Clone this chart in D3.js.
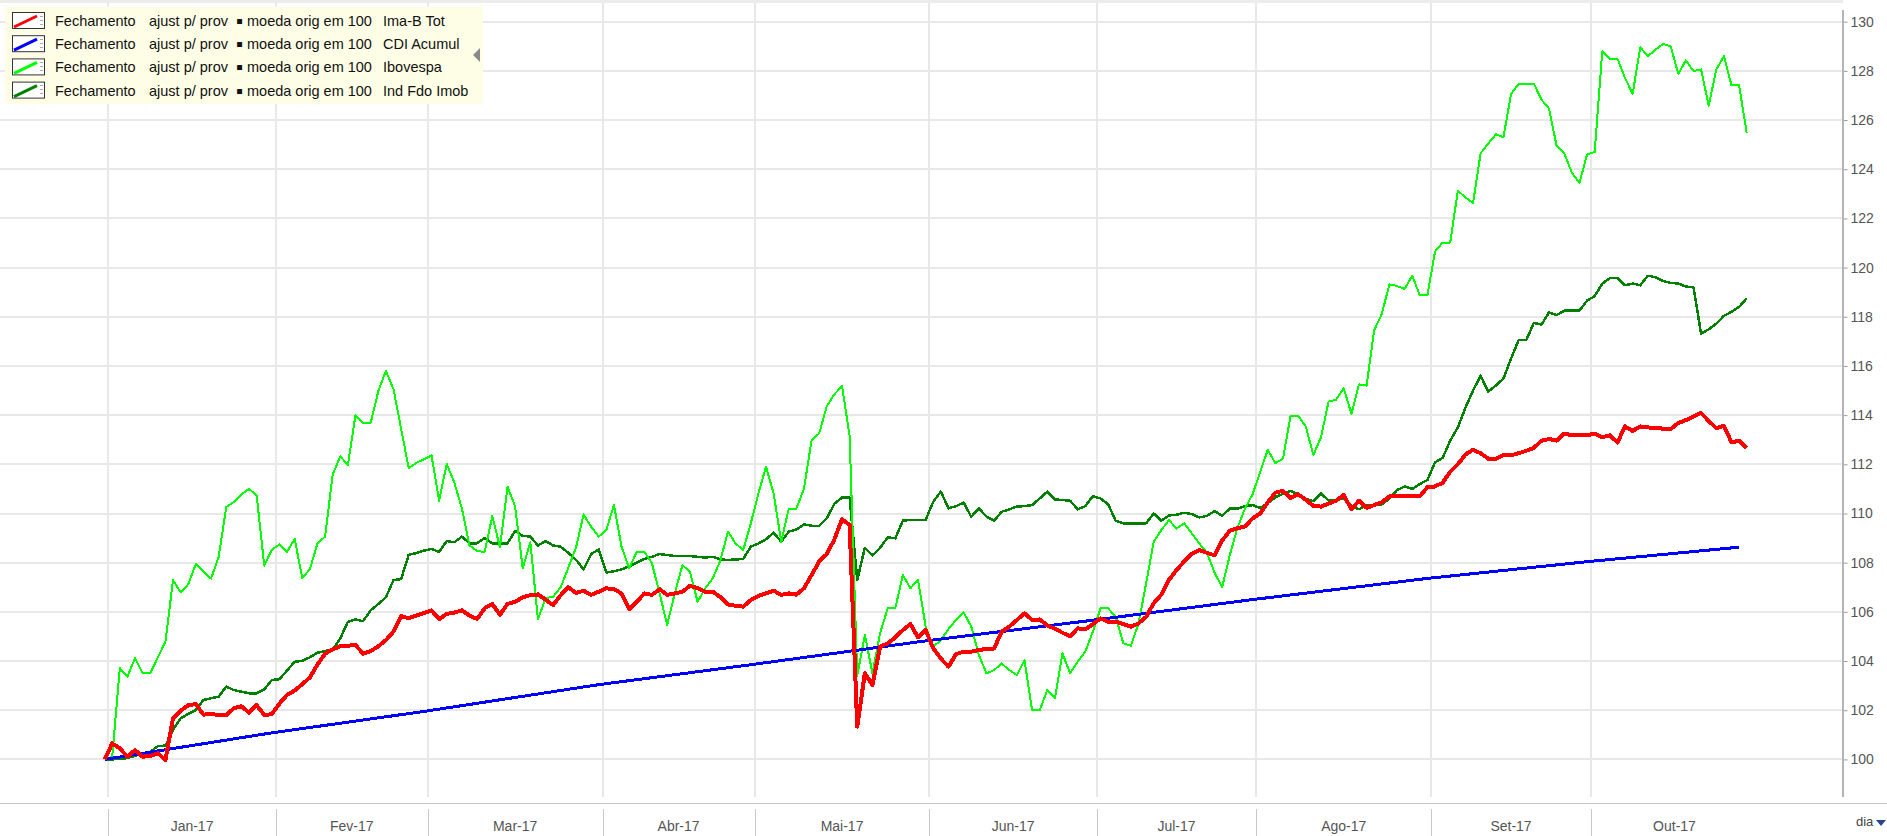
<!DOCTYPE html>
<html>
<head>
<meta charset="utf-8">
<script src="https://cdn.jsdelivr.net/npm/d3@7"></script>
<style>
  body { margin: 0; background: #fff; overflow: hidden; }
  svg { display: block; font-family: "Liberation Sans", Arial, sans-serif; }
</style>
</head>
<body>
<div id="chart"></div>
<script>
// ---------------- data ----------------
var monthLabels = ["Jan-17", "Fev-17", "Mar-17", "Abr-17", "Mai-17", "Jun-17", "Jul-17", "Ago-17", "Set-17", "Out-17"];
var yTickValues = [100, 102, 104, 106, 108, 110, 112, 114, 116, 118, 120, 122, 124, 126, 128, 130];
var legendParts = ["Fechamento", "ajust p/ prov", "\u25aa", "moeda orig em 100"];
var seriesNames = ["Ima-B Tot", "CDI Acumul", "Ibovespa", "Ind Fdo Imob"];

var imabTot = [
  ["2016-12-30",100],["2017-01-02",100.65],["2017-01-03",100.45],["2017-01-04",100.11],["2017-01-05",100.38],["2017-01-06",100.11],["2017-01-09",100.14],["2017-01-10",100.25],["2017-01-11",99.98],["2017-01-12",101.67],["2017-01-13",101.98],["2017-01-16",102.2],["2017-01-17",102.25],["2017-01-18",101.82],["2017-01-19",101.85],["2017-01-20",101.8],["2017-01-23",101.8],["2017-01-24",102.08],["2017-01-25",102.16],["2017-01-26",101.9],["2017-01-27",102.21],["2017-01-30",101.8],["2017-01-31",101.84],
  ["2017-02-01",102.27],["2017-02-02",102.62],["2017-02-03",102.8],["2017-02-06",103.06],["2017-02-07",103.33],["2017-02-08",103.86],["2017-02-09",104.3],["2017-02-10",104.47],["2017-02-13",104.6],["2017-02-15",104.65],["2017-02-16",104.3],["2017-02-17",104.4],["2017-02-20",104.6],["2017-02-21",104.85],["2017-02-22",105.2],["2017-02-23",105.83],["2017-02-24",105.74],["2017-02-27",105.85],["2017-02-28",105.95],
  ["2017-03-01",106.06],["2017-03-02",105.7],["2017-03-03",105.92],["2017-03-06",105.97],["2017-03-07",106.06],["2017-03-08",105.85],["2017-03-09",105.71],["2017-03-10",106.15],["2017-03-13",106.32],["2017-03-14",105.88],["2017-03-15",106.32],["2017-03-16",106.41],["2017-03-17",106.59],["2017-03-20",106.68],["2017-03-21",106.71],["2017-03-22",106.5],["2017-03-23",106.27],["2017-03-24",106.68],["2017-03-27",107.0],["2017-03-28",106.77],["2017-03-29",106.86],["2017-03-30",106.69],["2017-03-31",106.82],
  ["2017-04-03",106.96],["2017-04-04",106.92],["2017-04-05",106.75],["2017-04-06",106.1],["2017-04-07",106.41],["2017-04-10",106.75],["2017-04-11",106.69],["2017-04-12",106.92],["2017-04-13",106.69],["2017-04-14",106.75],["2017-04-17",106.82],["2017-04-18",107.06],["2017-04-19",106.96],["2017-04-20",106.82],["2017-04-21",106.82],["2017-04-24",106.6],["2017-04-25",106.3],["2017-04-26",106.25],["2017-04-27",106.21],["2017-04-28",106.48],
  ["2017-05-01",106.65],["2017-05-02",106.75],["2017-05-03",106.86],["2017-05-04",106.69],["2017-05-05",106.75],["2017-05-08",106.7],["2017-05-09",106.96],["2017-05-10",107.5],["2017-05-11",108.05],["2017-05-12",108.35],["2017-05-15",108.95],["2017-05-16",109.77],["2017-05-17",109.53],["2017-05-18",101.33],["2017-05-19",103.5],["2017-05-22",103.03],["2017-05-23",104.58],["2017-05-24",104.72],["2017-05-25",104.96],["2017-05-26",105.26],["2017-05-29",105.5],["2017-05-30",104.96],["2017-05-31",105.26],
  ["2017-06-01",104.51],["2017-06-02",104.1],["2017-06-05",103.77],["2017-06-06",104.28],["2017-06-07",104.38],["2017-06-08",104.38],["2017-06-09",104.45],["2017-06-12",104.49],["2017-06-13",104.51],["2017-06-14",105.19],["2017-06-15",105.4],["2017-06-16",105.67],["2017-06-19",105.94],["2017-06-20",105.67],["2017-06-21",105.69],["2017-06-22",105.45],["2017-06-23",105.31],["2017-06-26",105.15],["2017-06-27",105.0],["2017-06-28",105.33],["2017-06-29",105.29],["2017-06-30",105.5],
  ["2017-07-03",105.73],["2017-07-04",105.6],["2017-07-05",105.6],["2017-07-06",105.5],["2017-07-07",105.4],["2017-07-10",105.53],["2017-07-11",105.8],["2017-07-12",106.35],["2017-07-13",106.7],["2017-07-14",107.3],["2017-07-17",107.7],["2017-07-18",108.05],["2017-07-19",108.35],["2017-07-20",108.51],["2017-07-21",108.4],["2017-07-24",108.3],["2017-07-25",108.9],["2017-07-26",109.3],["2017-07-27",109.4],["2017-07-28",109.47],["2017-07-31",109.8],
  ["2017-08-01",110.0],["2017-08-02",110.45],["2017-08-03",110.85],["2017-08-04",110.92],["2017-08-07",110.63],["2017-08-08",110.78],["2017-08-09",110.56],["2017-08-10",110.31],["2017-08-11",110.28],["2017-08-14",110.4],["2017-08-15",110.52],["2017-08-16",110.75],["2017-08-17",110.17],["2017-08-18",110.52],["2017-08-21",110.23],["2017-08-22",110.34],["2017-08-23",110.46],["2017-08-24",110.7],["2017-08-25",110.7],["2017-08-28",110.7],["2017-08-29",110.7],["2017-08-30",110.7],["2017-08-31",111.07],
  ["2017-09-01",111.1],["2017-09-04",111.25],["2017-09-05",111.7],["2017-09-06",112.0],["2017-09-07",112.4],["2017-09-08",112.59],["2017-09-11",112.45],["2017-09-12",112.23],["2017-09-13",112.23],["2017-09-14",112.37],["2017-09-15",112.37],["2017-09-18",112.45],["2017-09-19",112.55],["2017-09-20",112.67],["2017-09-21",112.96],["2017-09-22",113.03],["2017-09-25",112.96],["2017-09-26",113.25],["2017-09-27",113.18],["2017-09-28",113.18],["2017-09-29",113.18],
  ["2017-10-02",113.25],["2017-10-03",113.1],["2017-10-04",113.18],["2017-10-05",112.89],["2017-10-06",113.54],["2017-10-09",113.36],["2017-10-10",113.54],["2017-10-11",113.5],["2017-10-12",113.48],["2017-10-13",113.45],["2017-10-16",113.43],["2017-10-17",113.68],["2017-10-18",113.8],["2017-10-19",113.94],["2017-10-20",114.09],["2017-10-23",113.76],["2017-10-24",113.47],["2017-10-25",113.57],["2017-10-26",112.89],["2017-10-27",112.96],["2017-10-30",112.67]
];

var cdiAcumul = [
  ["2016-12-30",100],["2017-01-31",101.08],["2017-02-28",101.95],["2017-03-31",103.04],["2017-04-28",103.85],["2017-05-31",104.82],["2017-06-30",105.66],["2017-07-31",106.5],["2017-08-31",107.36],["2017-09-29",108.04],["2017-10-27",108.63]
];

var ibovespa = [
  ["2016-12-30",100],["2017-01-02",100.1],["2017-01-03",103.71],["2017-01-04",103.36],["2017-01-05",104.12],["2017-01-06",103.5],["2017-01-09",103.5],["2017-01-11",104.79],["2017-01-12",107.29],["2017-01-13",106.8],["2017-01-16",107.12],["2017-01-17",107.95],["2017-01-19",107.35],["2017-01-20",108.23],["2017-01-23",110.26],["2017-01-24",110.47],["2017-01-25",110.78],["2017-01-26",111.0],["2017-01-27",110.74],["2017-01-30",107.88],["2017-01-31",108.53],
  ["2017-02-01",108.74],["2017-02-02",108.44],["2017-02-03",108.97],["2017-02-06",107.38],["2017-02-07",107.73],["2017-02-08",108.79],["2017-02-09",109.06],["2017-02-10",111.58],["2017-02-13",112.32],["2017-02-14",111.97],["2017-02-15",114.0],["2017-02-16",113.68],["2017-02-17",113.68],["2017-02-20",114.97],["2017-02-21",115.8],["2017-02-22",115.06],["2017-02-24",111.84],["2017-02-27",112.06],["2017-02-28",112.2],
  ["2017-03-01",112.36],["2017-03-02",110.52],["2017-03-03",112.02],["2017-03-06",111.26],["2017-03-07",110.2],["2017-03-08",108.7],["2017-03-09",108.47],["2017-03-10",108.44],["2017-03-13",109.9],["2017-03-14",108.62],["2017-03-15",111.09],["2017-03-16",110.29],["2017-03-17",107.77],["2017-03-20",108.84],["2017-03-21",105.7],["2017-03-22",106.55],["2017-03-23",106.62],["2017-03-24",107.0],["2017-03-27",107.8],["2017-03-28",108.6],["2017-03-29",109.96],["2017-03-30",109.46],["2017-03-31",109.06],
  ["2017-04-03",109.33],["2017-04-04",110.35],["2017-04-05",108.65],["2017-04-06",107.77],["2017-04-07",108.45],["2017-04-10",108.45],["2017-04-11",107.97],["2017-04-12",106.75],["2017-04-13",105.47],["2017-04-14",106.75],["2017-04-17",107.9],["2017-04-18",107.63],["2017-04-19",106.41],["2017-04-20",106.95],["2017-04-21",107.36],["2017-04-24",108.1],["2017-04-25",109.26],["2017-04-26",108.78],["2017-04-27",108.51],["2017-04-28",109.6],
  ["2017-05-01",110.82],["2017-05-02",111.9],["2017-05-03",110.82],["2017-05-04",108.85],["2017-05-05",110.2],["2017-05-08",110.2],["2017-05-09",111.02],["2017-05-10",112.99],["2017-05-11",113.26],["2017-05-12",114.37],["2017-05-15",114.85],["2017-05-16",115.18],["2017-05-17",113.15],["2017-05-18",103.4],["2017-05-19",105.06],["2017-05-22",103.5],["2017-05-23",105.12],["2017-05-24",106.14],["2017-05-25",106.14],["2017-05-26",107.5],["2017-05-29",106.96],["2017-05-30",107.3],["2017-05-31",105.4],
  ["2017-06-01",104.58],["2017-06-02",104.85],["2017-06-05",105.3],["2017-06-06",105.67],["2017-06-07",105.98],["2017-06-08",105.4],["2017-06-09",104.24],["2017-06-12",103.5],["2017-06-13",103.63],["2017-06-14",103.9],["2017-06-15",103.63],["2017-06-16",103.43],["2017-06-19",104.04],["2017-06-20",102.0],["2017-06-21",102.0],["2017-06-22",102.82],["2017-06-23",102.48],["2017-06-26",104.31],["2017-06-27",103.5],["2017-06-28",103.97],["2017-06-29",104.38],["2017-06-30",105.2],
  ["2017-07-03",106.14],["2017-07-04",106.14],["2017-07-05",105.8],["2017-07-06",104.72],["2017-07-07",104.62],["2017-07-10",105.53],["2017-07-11",107.16],["2017-07-12",108.85],["2017-07-13",109.33],["2017-07-14",109.73],["2017-07-17",109.39],["2017-07-18",109.6],["2017-07-19",109.19],["2017-07-20",108.78],["2017-07-21",108.4],["2017-07-24",107.6],["2017-07-25",107.0],["2017-07-26",108.3],["2017-07-27",109.4],["2017-07-28",110.2],["2017-07-31",110.78],
  ["2017-08-02",112.59],["2017-08-03",112.05],["2017-08-04",112.23],["2017-08-07",113.97],["2017-08-08",113.97],["2017-08-09",113.54],["2017-08-10",112.38],["2017-08-11",113.1],["2017-08-14",114.55],["2017-08-15",114.63],["2017-08-16",115.09],["2017-08-17",114.05],["2017-08-18",115.25],["2017-08-21",115.2],["2017-08-22",117.46],["2017-08-23",118.11],["2017-08-24",119.32],["2017-08-25",119.25],["2017-08-28",119.13],["2017-08-29",119.67],["2017-08-30",118.88],["2017-08-31",118.88],
  ["2017-09-01",120.65],["2017-09-04",121.02],["2017-09-05",121.02],["2017-09-06",123.12],["2017-09-07",122.86],["2017-09-08",122.62],["2017-09-11",124.65],["2017-09-12",125.04],["2017-09-13",125.42],["2017-09-14",125.3],["2017-09-15",127.05],["2017-09-18",127.48],["2017-09-19",127.48],["2017-09-20",127.48],["2017-09-21",126.83],["2017-09-22",126.47],["2017-09-25",124.94],["2017-09-26",124.65],["2017-09-27",123.86],["2017-09-28",123.45],["2017-09-29",124.6],
  ["2017-10-02",124.7],["2017-10-03",128.79],["2017-10-04",128.5],["2017-10-05",128.5],["2017-10-06",127.7],["2017-10-09",127.07],["2017-10-10",128.96],["2017-10-11",128.6],["2017-10-12",128.86],["2017-10-13",129.1],["2017-10-16",129.0],["2017-10-17",127.88],["2017-10-18",128.43],["2017-10-19",127.99],["2017-10-20",128.06],["2017-10-23",126.58],["2017-10-24",128.06],["2017-10-25",128.6],["2017-10-26",127.41],["2017-10-27",127.41],["2017-10-30",125.48]
];

var indFdoImob = [
  ["2016-12-30",100],["2017-01-02",100.0],["2017-01-04",100.05],["2017-01-06",100.25],["2017-01-09",100.3],["2017-01-10",100.54],["2017-01-11",100.56],["2017-01-12",101.2],["2017-01-13",101.67],["2017-01-16",101.85],["2017-01-17",102.01],["2017-01-18",102.42],["2017-01-20",102.55],["2017-01-23",102.96],["2017-01-24",102.82],["2017-01-26",102.69],["2017-01-27",102.69],["2017-01-30",102.85],["2017-01-31",103.23],
  ["2017-02-01",103.26],["2017-02-03",103.97],["2017-02-06",104.01],["2017-02-07",104.15],["2017-02-08",104.34],["2017-02-10",104.47],["2017-02-13",104.92],["2017-02-14",105.6],["2017-02-15",105.69],["2017-02-16",105.62],["2017-02-17",106.06],["2017-02-20",106.32],["2017-02-21",106.59],["2017-02-22",107.29],["2017-02-23",107.33],["2017-02-24",108.32],["2017-02-27",108.39],["2017-02-28",108.49],
  ["2017-03-01",108.56],["2017-03-02",108.44],["2017-03-03",108.88],["2017-03-06",108.83],["2017-03-07",109.06],["2017-03-08",108.79],["2017-03-09",108.79],["2017-03-10",109.0],["2017-03-13",108.79],["2017-03-14",108.79],["2017-03-15",108.79],["2017-03-16",109.29],["2017-03-17",109.09],["2017-03-20",109.06],["2017-03-21",108.7],["2017-03-22",108.88],["2017-03-23",108.7],["2017-03-24",108.65],["2017-03-27",108.4],["2017-03-28",108.12],["2017-03-29",107.73],["2017-03-30",108.35],["2017-03-31",108.54],
  ["2017-04-03",107.6],["2017-04-04",107.65],["2017-04-05",107.73],["2017-04-06",107.85],["2017-04-07",108.0],["2017-04-10",108.15],["2017-04-11",108.24],["2017-04-12",108.35],["2017-04-14",108.27],["2017-04-18",108.27],["2017-04-19",108.24],["2017-04-20",108.21],["2017-04-21",108.24],["2017-04-24",108.13],["2017-04-25",108.11],["2017-04-27",108.15],["2017-04-28",108.65],
  ["2017-05-01",108.78],["2017-05-02",108.95],["2017-05-03",109.22],["2017-05-04",108.85],["2017-05-05",109.26],["2017-05-08",109.35],["2017-05-09",109.56],["2017-05-10",109.5],["2017-05-11",109.5],["2017-05-12",109.8],["2017-05-15",110.4],["2017-05-16",110.65],["2017-05-17",110.64],["2017-05-18",107.3],["2017-05-19",108.6],["2017-05-22",108.3],["2017-05-23",108.6],["2017-05-24",109.03],["2017-05-25",108.99],["2017-05-26",109.71],["2017-05-29",109.74],["2017-05-30",109.74],["2017-05-31",109.74],
  ["2017-06-01",110.48],["2017-06-02",110.89],["2017-06-05",110.21],["2017-06-06",110.3],["2017-06-07",110.44],["2017-06-08",109.87],["2017-06-09",110.21],["2017-06-12",109.87],["2017-06-13",109.71],["2017-06-14",110.07],["2017-06-15",110.17],["2017-06-16",110.28],["2017-06-19",110.3],["2017-06-20",110.34],["2017-06-21",110.61],["2017-06-22",110.89],["2017-06-23",110.57],["2017-06-26",110.55],["2017-06-27",110.52],["2017-06-28",110.17],["2017-06-29",110.3],["2017-06-30",110.71],
  ["2017-07-03",110.61],["2017-07-04",110.38],["2017-07-05",109.7],["2017-07-06",109.6],["2017-07-11",109.6],["2017-07-12",110.0],["2017-07-13",109.71],["2017-07-14",109.92],["2017-07-17",109.95],["2017-07-18",110.03],["2017-07-19",109.98],["2017-07-20",109.84],["2017-07-21",109.9],["2017-07-24",110.1],["2017-07-25",109.9],["2017-07-26",110.2],["2017-07-27",110.2],["2017-07-28",110.3],["2017-07-31",110.34],
  ["2017-08-01",110.23],["2017-08-02",110.42],["2017-08-03",110.66],["2017-08-04",110.8],["2017-08-07",110.92],["2017-08-08",110.78],["2017-08-09",110.6],["2017-08-10",110.5],["2017-08-11",110.82],["2017-08-14",110.52],["2017-08-15",110.55],["2017-08-16",110.63],["2017-08-17",110.3],["2017-08-18",110.17],["2017-08-21",110.34],["2017-08-22",110.35],["2017-08-23",110.37],["2017-08-24",110.6],["2017-08-25",110.95],["2017-08-28",111.1],["2017-08-29",111.0],["2017-08-30",111.2],["2017-08-31",111.36],
  ["2017-09-01",112.08],["2017-09-04",112.26],["2017-09-05",112.96],["2017-09-06",113.5],["2017-09-07",114.3],["2017-09-08",115.0],["2017-09-11",115.6],["2017-09-12",114.96],["2017-09-13",115.2],["2017-09-14",115.49],["2017-09-15",116.3],["2017-09-18",117.05],["2017-09-19",117.05],["2017-09-20",117.75],["2017-09-21",117.68],["2017-09-22",118.18],["2017-09-25",118.07],["2017-09-26",118.25],["2017-09-27",118.25],["2017-09-28",118.25],["2017-09-29",118.66],
  ["2017-10-02",118.84],["2017-10-03",119.35],["2017-10-04",119.57],["2017-10-05",119.57],["2017-10-06",119.28],["2017-10-09",119.35],["2017-10-10",119.28],["2017-10-11",119.67],["2017-10-12",119.61],["2017-10-13",119.45],["2017-10-16",119.38],["2017-10-17",119.35],["2017-10-18",119.23],["2017-10-19",119.2],["2017-10-20",117.31],["2017-10-23",117.49],["2017-10-24",117.72],["2017-10-25",118.04],["2017-10-26",118.2],["2017-10-27",118.4],["2017-10-30",118.75]
];

// ---------------- chart ----------------
var width = 1887, height = 836;
var axisX = 1842.5;          // vertical value axis on the right
var gridBottom = 797;
var baseLineY = 803.5;

// series drawn back to front; legend order follows seriesNames
var series = [
  { name: seriesNames[3], data: indFdoImob, colour: "#008000", width: 2.5 },
  { name: seriesNames[2], data: ibovespa,   colour: "#00ff00", width: 2 },
  { name: seriesNames[1], data: cdiAcumul,  colour: "#0000ff", width: 3 },
  { name: seriesNames[0], data: imabTot,    colour: "#ff0000", width: 4 }
];
var legendColours = ["#ff0000", "#0000ff", "#00ff00", "#008000"];

var parseDate = d3.timeParse("%Y-%m-%d");
var monday0 = new Date(2017, 0, 2);

// position on the "dia" axis: count of weekdays from the first monday of 2017
function weekdayIndex(d) {
  var days = Math.round((d - monday0) / 864e5);
  var w = Math.floor(days / 7), r = days - w * 7;
  return w * 5 + Math.min(r, 5);
}

var svg = d3.select("#chart").append("svg")
  .attr("width", width)
  .attr("height", height)
  .attr("viewBox", "0 0 " + width + " " + height);

var scaleY = d3.scaleLinear().domain([100, 130]).range([759.4, 21.7]);
var scaleX = d3.scaleLinear().domain([-14.76, 227.6]).range([0, axisX]);

// month borders sit half a day before the first weekday of each month
var monthStarts = d3.timeMonth.range(new Date(2017, 0, 1), new Date(2017, 11, 1));
var borders = monthStarts.map(function (m) { return weekdayIndex(m) - 0.5; });

function renderGrid() {
  var g = svg.append("g").attr("class", "grid").attr("shape-rendering", "crispEdges");

  // thin band along the top edge of the plot
  g.append("rect")
    .attr("x", 0).attr("y", 0)
    .attr("width", axisX).attr("height", 3)
    .attr("fill", "#ececec");

  g.selectAll("line.h")
    .data(yTickValues)
    .enter().append("line")
      .attr("class", "h")
      .attr("x1", 0)
      .attr("x2", axisX)
      .attr("y1", function (d) { return Math.round(scaleY(d)); })
      .attr("y2", function (d) { return Math.round(scaleY(d)); })
      .attr("stroke", "#e8e8e8")
      .attr("stroke-width", 2);

  g.selectAll("line.v")
    .data(borders.slice(0, monthLabels.length))
    .enter().append("line")
      .attr("class", "v")
      .attr("x1", function (d) { return Math.round(scaleX(d)); })
      .attr("x2", function (d) { return Math.round(scaleX(d)); })
      .attr("y1", 3)
      .attr("y2", gridBottom)
      .attr("stroke", "#e8e8e8")
      .attr("stroke-width", 2);
}

function renderAxes() {
  var g = svg.append("g").attr("class", "axes").attr("shape-rendering", "crispEdges");

  // bottom base line across the whole width
  g.append("line")
    .attr("x1", 0).attr("x2", width)
    .attr("y1", baseLineY).attr("y2", baseLineY)
    .attr("stroke", "#c4c4c4").attr("stroke-width", 1.5);

  // month separators below the base line
  g.selectAll("line.sep")
    .data(borders.slice(0, monthLabels.length))
    .enter().append("line")
      .attr("class", "sep")
      .attr("x1", function (d) { return Math.round(scaleX(d)); })
      .attr("x2", function (d) { return Math.round(scaleX(d)); })
      .attr("y1", 809).attr("y2", height)
      .attr("stroke", "#c8c8c8").attr("stroke-width", 1);

  g.selectAll("text.month")
    .data(monthLabels)
    .enter().append("text")
      .attr("class", "month")
      .attr("x", function (d, i) { return scaleX((borders[i] + borders[i + 1]) / 2); })
      .attr("y", 831)
      .attr("text-anchor", "middle")
      .attr("font-size", 14)
      .attr("fill", "#555")
      .text(function (d) { return d; });

  // value axis on the right
  var yAxis = d3.axisRight(scaleY)
    .tickValues(yTickValues)
    .tickSize(5)
    .tickPadding(3)
    .tickFormat(d3.format("d"));

  var ya = svg.append("g")
    .attr("class", "y-axis")
    .attr("transform", "translate(" + axisX + ",0)")
    .call(yAxis);
  ya.select(".domain").remove();
  ya.selectAll(".tick line").attr("stroke", "#999");
  ya.selectAll(".tick text")
    .attr("font-family", "Liberation Sans, Arial, sans-serif")
    .attr("font-size", 14)
    .attr("fill", "#555");
  ya.append("line")
    .attr("x1", 0).attr("x2", 0)
    .attr("y1", 10).attr("y2", gridBottom)
    .attr("stroke", "#b4b4b4").attr("stroke-width", 2)
    .attr("shape-rendering", "crispEdges");

  // period selector
  svg.append("text")
    .attr("x", 1856).attr("y", 826)
    .attr("font-size", 13).attr("fill", "#444")
    .text("dia");
  svg.append("path")
    .attr("d", "M1876,820 L1886,820 L1881,826 Z")
    .attr("fill", "#24468f");
}

function renderLines() {
  var line = d3.line()
    .x(function (d) { return scaleX(weekdayIndex(parseDate(d[0]))); })
    .y(function (d) { return scaleY(d[1]); });

  svg.append("g").attr("class", "lines")
    .selectAll("path")
    .data(series)
    .enter().append("path")
      .attr("d", function (s) { return line(s.data); })
      .attr("fill", "none")
      .attr("stroke", function (s) { return s.colour; })
      .attr("stroke-width", function (s) { return s.width; })
      .attr("stroke-linejoin", "round")
      .attr("shape-rendering", "crispEdges");
}

function renderLegend() {
  var g = svg.append("g").attr("class", "legend");

  g.append("rect")
    .attr("x", 5).attr("y", 6.5)
    .attr("width", 478).attr("height", 97.5)
    .attr("fill", "#fefee6");

  var row = g.selectAll("g.item")
    .data(seriesNames)
    .enter().append("g")
      .attr("class", "item")
      .attr("transform", function (d, i) { return "translate(0," + (21 + i * 23.2) + ")"; });

  // little swatch: framed box with a rising coloured stroke
  row.append("rect")
    .attr("x", 12.5).attr("y", -8.5)
    .attr("width", 32).attr("height", 16)
    .attr("fill", "#fff")
    .attr("stroke", "#333").attr("stroke-width", 1);
  row.append("path")
    .attr("d", "M14,6 L37,-5")
    .attr("stroke", function (d, i) { return legendColours[i]; })
    .attr("stroke-width", 3)
    .attr("fill", "none");
  row.append("path")
    .attr("d", "M40,-5 h3 M40,-1 h3 M40,3 h3")
    .attr("stroke", "#aaa")
    .attr("stroke-width", 1)
    .attr("shape-rendering", "crispEdges");

  var partX = [55, 149, 236, 247];
  var partSize = [14.5, 14.5, 20, 14.5];
  legendParts.forEach(function (p, j) {
    row.append("text")
      .attr("x", partX[j]).attr("y", j === 2 ? 7 : 5)
      .attr("font-size", partSize[j])
      .attr("fill", "#111")
      .text(p);
  });
  row.append("text")
    .attr("x", 383).attr("y", 5)
    .attr("font-size", 14.5)
    .attr("fill", "#111")
    .text(function (d) { return d; });

  // collapse arrow
  g.append("path")
    .attr("d", "M473,55 L480,48 L480,62 Z")
    .attr("fill", "#8a8a8a");
}

renderGrid();
renderAxes();
renderLines();
renderLegend();
</script>
</body>
</html>
